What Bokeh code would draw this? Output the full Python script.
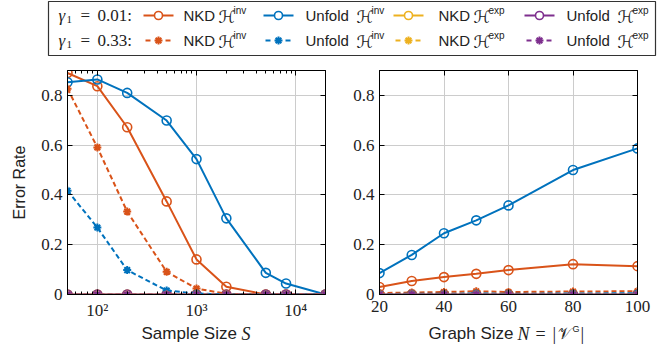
from bokeh.plotting import figure
from bokeh.layouts import column, row
from bokeh.models import Range1d, FixedTicker, CustomJSTickFormatter, LinearAxis, LogAxis
from bokeh.core.properties import value
from bokeh.embed import file_html
from bokeh.resources import INLINE

# ---------------- data ----------------
sample_sizes = [50, 100, 200, 500, 1000, 2000, 5000, 8000, 20000]
s_nkd_inv_g001 = [0.890, 0.837, 0.672, 0.374, 0.141, 0.031, 0.0, 0.0, 0.0]
s_unf_inv_g001 = [0.853, 0.864, 0.810, 0.699, 0.544, 0.306, 0.087, 0.044, 0.0]
s_nkd_exp_g001 = [0.0, 0.0, 0.0, 0.0, 0.0, 0.0, 0.0, 0.0, 0.0]
s_unf_exp_g001 = [0.0, 0.0, 0.0, 0.0, 0.0, 0.0, 0.0, 0.0, 0.0]
s_nkd_inv_g033 = [0.827, 0.591, 0.333, 0.091, 0.024, 0.003, 0.0, 0.0, 0.0]
s_unf_inv_g033 = [0.417, 0.269, 0.098, 0.016, 0.004, 0.0, 0.0, 0.0, 0.0]
s_nkd_exp_g033 = [0.0, 0.0, 0.0, 0.0, 0.0, 0.0, 0.0, 0.0, 0.0]
s_unf_exp_g033 = [0.0, 0.0, 0.0, 0.0, 0.0, 0.0, 0.0, 0.0, 0.0]

graph_sizes = [20, 30, 40, 50, 60, 80, 100]
n_nkd_inv_g001 = [0.030, 0.054, 0.070, 0.083, 0.098, 0.122, 0.114]
n_unf_inv_g001 = [0.086, 0.159, 0.246, 0.298, 0.358, 0.500, 0.587]
n_nkd_exp_g001 = [0.0, 0.0, 0.0, 0.0, 0.0, 0.0, 0.0]
n_unf_exp_g001 = [0.0, 0.0, 0.0, 0.0, 0.0, 0.0, 0.0]
n_nkd_inv_g033 = [0.006, 0.008, 0.010, 0.013, 0.010, 0.012, 0.013]
n_unf_inv_g033 = [0.002, 0.003, 0.003, 0.004, 0.003, 0.004, 0.005]
n_nkd_exp_g033 = [0.0, 0.0, 0.0, 0.0, 0.0, 0.0, 0.0]
n_unf_exp_g033 = [0.0, 0.0, 0.0, 0.0, 0.0, 0.0, 0.0]

y_ticks = [0, 0.2, 0.4, 0.6, 0.8]
s_major_ticks = [100, 1000, 10000]
n_ticks = [20, 40, 60, 80, 100]

gamma_labels = ["0.01:", "0.33:"]
method_names = ["NKD", "Unfold", "NKD", "Unfold"]
method_sups = ["inv", "inv", "exp", "exp"]

ORANGE = "#D95319"
BLUE = "#0072BD"
YELLOW = "#EDB120"
PURPLE = "#7E2F8E"
colors = [ORANGE, BLUE, YELLOW, PURPLE]

SANS = "Liberation Sans"
SERIF = "Liberation Serif"
TXT = "#222222"
DASH = "5 3"


def style_marker(p, x, y, color, dashed):
    if dashed:
        p.line(x, y, line_color=color, line_width=2, line_dash=DASH)
        p.scatter(x, y, marker="asterisk", size=8, line_color=color, line_width=2)
    else:
        p.line(x, y, line_color=color, line_width=2)
        p.scatter(x, y, marker="circle", size=9, line_color=color, line_width=1.6,
                  fill_color=None)


def base_plot(x_type, x_range, left_border, right_border):
    p = figure(frame_width=258, frame_height=224, x_axis_type=x_type,
               x_range=x_range, y_range=Range1d(0, 0.9),
               output_backend="svg", toolbar_location=None,
               min_border_left=left_border, min_border_right=right_border,
               min_border_top=12, min_border_bottom=28,
               background_fill_color="white", border_fill_color="white")
    p.outline_line_color = "black"
    p.outline_line_width = 1
    p.grid.grid_line_color = "#cccccc"
    p.grid.grid_line_width = 1
    p.yaxis.ticker = FixedTicker(ticks=y_ticks)
    p.yaxis.formatter = CustomJSTickFormatter(
        code="return tick == 0 ? '0' : tick.toFixed(1);")
    for ax in p.axis:
        ax.major_label_text_font = SERIF
        ax.major_label_text_font_size = "17px"
        ax.major_label_text_color = TXT
        ax.major_tick_in = 5
        ax.major_tick_out = 0
        ax.minor_tick_in = 3
        ax.minor_tick_out = 0
        ax.axis_line_color = "black"
        ax.major_tick_line_color = "black"
        ax.minor_tick_line_color = "black"
    p.yaxis.minor_tick_line_color = None
    p.yaxis.major_label_standoff = 5
    p.xaxis.major_label_standoff = 6
    return p


def add_mirror_axes(p, xticker, log):
    top = (LogAxis if log else LinearAxis)(ticker=xticker)
    right = LinearAxis(ticker=FixedTicker(ticks=y_ticks))
    for ax in (top, right):
        ax.major_label_text_font_size = "1px"
        ax.major_label_text_color = None
        ax.major_label_standoff = 0
        ax.major_tick_in = 5
        ax.major_tick_out = 0
        ax.minor_tick_in = 3
        ax.minor_tick_out = 0
        ax.axis_line_color = "black"
        ax.major_tick_line_color = "black"
        ax.minor_tick_line_color = "black"
    right.minor_tick_line_color = None
    if not log:
        top.minor_tick_line_color = None
    p.add_layout(top, "above")
    p.add_layout(right, "right")


# ---------------- left plot ----------------
s_minor = [m * 10 ** e for e in (1, 2, 3, 4) for m in range(2, 10)
           if 50 < m * 10 ** e <= 20000 and m * 10 ** e not in s_major_ticks]
s_ticker = FixedTicker(ticks=s_major_ticks, minor_ticks=s_minor)
p1 = base_plot("log", Range1d(50, 20000), 67, 10)
p1.xaxis.ticker = s_ticker
p1.xaxis.formatter = CustomJSTickFormatter(code="""
const e = Math.round(Math.log10(tick));
const sup = {2: '\\u00b2', 3: '\\u00b3', 4: '\\u2074'};
return '10' + (sup[e] || e);
""")
p1.yaxis.axis_label = "Error Rate"
p1.yaxis.axis_label_text_font = SANS
p1.yaxis.axis_label_text_font_size = "16px"
p1.yaxis.axis_label_text_font_style = "normal"
p1.yaxis.axis_label_text_color = TXT
p1.yaxis.axis_label_standoff = 10
add_mirror_axes(p1, s_ticker, True)

s_g001 = [s_nkd_inv_g001, s_unf_inv_g001, s_nkd_exp_g001, s_unf_exp_g001]
s_g033 = [s_nkd_inv_g033, s_unf_inv_g033, s_nkd_exp_g033, s_unf_exp_g033]
for ys, c in zip(s_g001, colors):
    style_marker(p1, sample_sizes, ys, c, False)
for ys, c in zip(s_g033, colors):
    style_marker(p1, sample_sizes, ys, c, True)

# ---------------- right plot ----------------
n_ticker = FixedTicker(ticks=n_ticks)
p2 = base_plot("linear", Range1d(20, 100), 44, 35)
p2.xaxis.ticker = n_ticker
p2.xaxis.minor_tick_line_color = None
add_mirror_axes(p2, n_ticker, False)

n_g001 = [n_nkd_inv_g001, n_unf_inv_g001, n_nkd_exp_g001, n_unf_exp_g001]
n_g033 = [n_nkd_inv_g033, n_unf_inv_g033, n_nkd_exp_g033, n_unf_exp_g033]
for ys, c in zip(n_g001, colors):
    style_marker(p2, graph_sizes, ys, c, False)
for ys, c in zip(n_g033, colors):
    style_marker(p2, graph_sizes, ys, c, True)

# ---------------- legend strip ----------------
LW, LH = 672, 58
leg = figure(width=LW, height=LH, x_range=Range1d(0, LW), y_range=Range1d(LH, 0),
             x_axis_type=None, y_axis_type=None, output_backend="svg",
             toolbar_location=None, min_border=0, outline_line_color=None,
             background_fill_color="white", border_fill_color="white")
leg.quad(left=48, right=655, top=1, bottom=55, fill_color=None,
         line_color="#333333", line_width=1.2)

row_y = [15, 40]
glyph_x = [143, 263, 393, 524]
text_x = [183, 305, 438, 566]
h_off = [35, 51, 35, 51]
for r, (lab_txt, yy) in enumerate(zip(gamma_labels, row_y)):
    leg.text(x=[58], y=[yy], text=["\u03b3"], text_font=value(SERIF),
             text_font_style="italic", text_font_size="17px",
             text_baseline="middle", text_color=TXT)
    leg.text(x=[66], y=[yy + 4], text=["1"], text_font=value(SERIF),
             text_font_size="11px", text_baseline="middle", text_color=TXT)
    leg.text(x=[80], y=[yy], text=["="], text_font=value(SERIF),
             text_font_size="17px", text_baseline="middle", text_color=TXT)
    leg.text(x=[97], y=[yy], text=[lab_txt], text_font=value(SERIF),
             text_font_size="17px", text_baseline="middle", text_color=TXT)
    dashed = r == 1
    for i in range(4):
        c = colors[i]
        gx = glyph_x[i]
        if dashed:
            leg.segment(x0=[gx + 2], y0=[yy], x1=[gx + 28], y1=[yy], line_color=c,
                        line_width=2, line_dash="5 5")
            leg.scatter(x=[gx + 15], y=[yy], marker="asterisk", size=8,
                        line_color=c, line_width=2)
        else:
            leg.segment(x0=[gx], y0=[yy], x1=[gx + 30], y1=[yy], line_color=c,
                        line_width=2)
            leg.scatter(x=[gx + 15], y=[yy], marker="circle", size=8,
                        line_color=c, line_width=1.6, fill_color="white")
        tx = text_x[i]
        leg.text(x=[tx], y=[yy], text=[method_names[i]], text_font=value(SANS),
                 text_font_size="15px", text_baseline="middle", text_color=TXT)
        leg.text(x=[tx + h_off[i]], y=[yy + 1], text=["\u210b"],
                 text_font=value("DejaVu Sans"),
                 text_font_size="17px", text_baseline="middle", text_color=TXT)
        leg.text(x=[tx + h_off[i] + 15], y=[yy - 5], text=[method_sups[i]],
                 text_font=value(SANS), text_font_size="10px",
                 text_baseline="middle", text_color=TXT)

# ---------------- x-axis label strip ----------------
SW, SH = 672, 29
lab = figure(width=SW, height=SH, x_range=Range1d(0, SW), y_range=Range1d(SH, 0),
             x_axis_type=None, y_axis_type=None, output_backend="svg",
             toolbar_location=None, min_border=0, outline_line_color=None,
             background_fill_color="white", border_fill_color="white")
ly = 11
lab.text(x=[141], y=[ly], text=["Sample Size"], text_font=value(SANS),
         text_font_size="17px", text_baseline="middle", text_color=TXT)
lab.text(x=[241], y=[ly], text=["S"], text_font=value(SERIF), text_font_style="italic",
         text_font_size="18px", text_baseline="middle", text_color=TXT)
lab.text(x=[428], y=[ly], text=["Graph Size"], text_font=value(SANS),
         text_font_size="17px", text_baseline="middle", text_color=TXT)
lab.text(x=[517], y=[ly], text=["N"], text_font=value(SERIF), text_font_style="italic",
         text_font_size="18px", text_baseline="middle", text_color=TXT)
lab.text(x=[535], y=[ly], text=["="], text_font=value(SERIF),
         text_font_size="18px", text_baseline="middle", text_color=TXT)
lab.text(x=[552], y=[ly], text=["|"], text_font=value(SERIF),
         text_font_size="18px", text_baseline="middle", text_color=TXT)
lab.text(x=[557], y=[ly], text=["\U0001d4b1"], text_font=value("DejaVu Sans"),
         text_font_size="16px", text_baseline="middle", text_color=TXT)
lab.text(x=[572], y=[ly - 5], text=["G"], text_font=value(SANS),
         text_font_size="9px", text_baseline="middle", text_color=TXT)
lab.text(x=[580], y=[ly], text=["|"], text_font=value(SERIF),
         text_font_size="18px", text_baseline="middle", text_color=TXT)

layout = column(leg, row(p1, p2), lab)
open("out.html", "w").write(file_html(layout, INLINE))
